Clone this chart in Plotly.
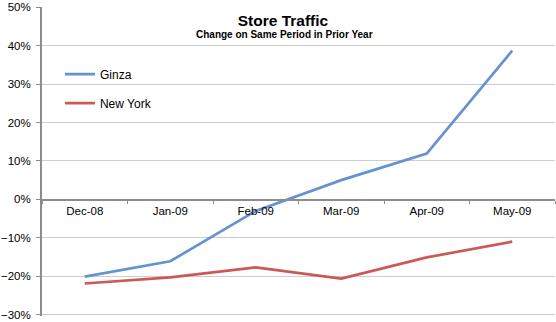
import plotly.graph_objects as go

# Monthly store traffic, % change on same period in prior year
months = ["Dec-08", "Jan-09", "Feb-09", "Mar-09", "Apr-09", "May-09"]
ginza = [-20.1, -16.1, -3.0, 5.0, 11.9, 38.7]
new_york = [-21.9, -20.3, -17.7, -20.6, -15.1, -11.0]

y_min, y_max = -30, 50
FONT = "Liberation Sans, Arial, sans-serif"

fig = go.Figure()
fig.add_trace(go.Scatter(x=months, y=ginza, name="Ginza", mode="lines",
                         line=dict(color="#6592D0", width=2.7), legendgroup="g"))
fig.add_trace(go.Scatter(x=months, y=new_york, name="New York", mode="lines",
                         line=dict(color="#CB5A56", width=2.7), legendgroup="n"))

# x axis sits on the 0% line
zero_pos = (0 - y_min) / (y_max - y_min)

fig.update_layout(
    width=556, height=322,
    margin=dict(l=39, r=1, t=7, b=4),
    paper_bgcolor="white", plot_bgcolor="white",
    font=dict(family=FONT, size=12, color="black"),
    title=dict(text="<b>Store Traffic</b>", x=283 / 556, xanchor="center",
               y=1 - 21 / 322, yanchor="middle", yref="container",
               font=dict(size=15.5, family=FONT)),
    annotations=[dict(text="<b>Change on Same Period in Prior Year</b>",
                      xref="paper", yref="paper", x=(283 - 39) / 516,
                      y=(322 - 4 - 34.5) / 311, xanchor="center", yanchor="middle",
                      showarrow=False, font=dict(size=10, family=FONT))],
    showlegend=True,
    legend=dict(x=0.035, y=(322 - 4 - 60) / 311, xanchor="left", yanchor="top",
                bgcolor="rgba(0,0,0,0)", font=dict(size=12),
                traceorder="grouped", tracegroupgap=10, itemwidth=30),
    xaxis=dict(type="category", range=[-0.5, 5.5], anchor="free",
               position=zero_pos, showline=True, linecolor="#8C8C8C",
               linewidth=1.5, ticks="outside", tickson="boundaries",
               ticklen=3, tickcolor="#8C8C8C", showgrid=False,
               tickfont=dict(size=11.5), fixedrange=True),
    yaxis=dict(range=[y_min - 0.35, y_max + 0.05], dtick=10, tick0=0,
               ticksuffix="%", showgrid=True, gridcolor="#CDCDCD",
               gridwidth=1, zeroline=False, showline=True,
               linecolor="#8C8C8C", linewidth=2, ticks="outside",
               ticklen=4, tickcolor="#8C8C8C", tickfont=dict(size=11.5),
               ticklabeloverflow="allow", ticklabelstandoff=3),
)

fig.write_html("out.html")
